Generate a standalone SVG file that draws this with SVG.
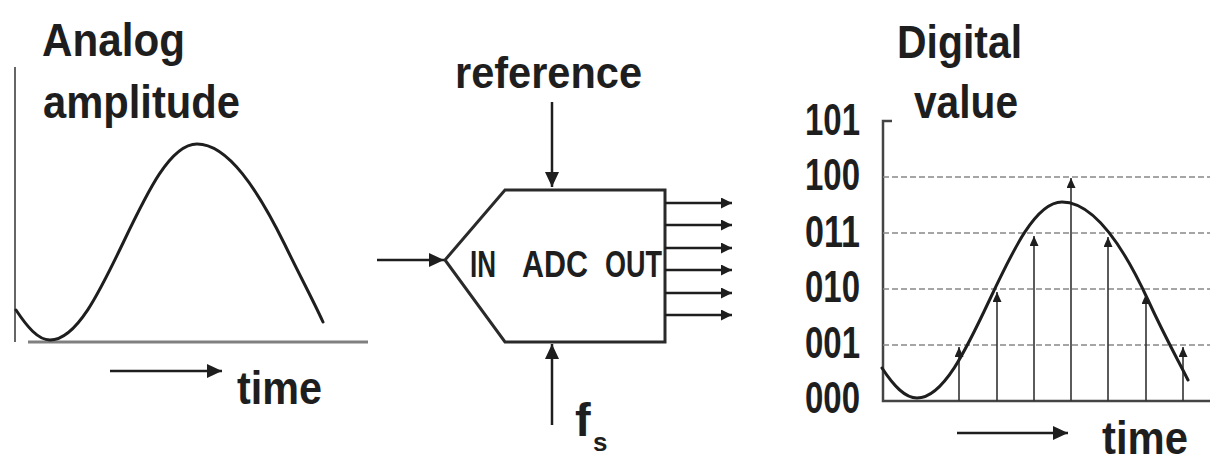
<svg xmlns="http://www.w3.org/2000/svg" width="1210" height="463" viewBox="0 0 1210 463">
<style>
text{font-family:"Liberation Sans",Arial,sans-serif;font-weight:bold;fill:#1e1e1e;}
.big{font-size:47px;}
.mid{font-size:44px;}
.lbl{font-size:36px;}
.curve{fill:none;stroke:#1e1e1e;stroke-width:3;stroke-linecap:round;}
.axis{fill:none;stroke:#444;stroke-width:2.5;}
.base{fill:none;stroke:#808080;stroke-width:3;}
.dash{fill:none;stroke:#888;stroke-width:1.6;stroke-dasharray:6 3;}
.arr{fill:none;stroke:#1e1e1e;stroke-width:2.5;}
.stem{fill:none;stroke:#333;stroke-width:1.6;}
.box{fill:none;stroke:#2a2a2a;stroke-width:3;stroke-linejoin:miter;}
</style>
<defs>
<marker id="ah" markerUnits="userSpaceOnUse" markerWidth="16" markerHeight="14" refX="15" refY="7" orient="auto"><path d="M0,0 L15,7 L0,14 z" fill="#1e1e1e"/></marker>
<marker id="ahs" markerUnits="userSpaceOnUse" markerWidth="12" markerHeight="11" refX="11" refY="5.5" orient="auto"><path d="M0,0 L11,5.5 L0,11 z" fill="#1e1e1e"/></marker>
<marker id="aht" markerUnits="userSpaceOnUse" markerWidth="10" markerHeight="9" refX="10" refY="4.5" orient="auto"><path d="M0,0 L10,4.5 L0,9 z" fill="#1e1e1e"/></marker>
</defs>
<rect width="1210" height="463" fill="#fff"/>

<g id="analog-plot">
<text class="big" x="42" y="56" textLength="143" lengthAdjust="spacingAndGlyphs">Analog</text>
<text class="big" x="43" y="118" textLength="197" lengthAdjust="spacingAndGlyphs">amplitude</text>
<line class="axis" x1="15" y1="67" x2="15" y2="342" style="stroke:#666;stroke-width:2"/>
<line class="base" x1="28" y1="342" x2="368" y2="342"/>
<path class="curve" d="M16,310 C27,326.6 38,340 50,340 C76.6,340 99.5,292.2 123.5,242 C147.5,191.8 170.4,144 197,144 C228,144 258,190 285,245 C300,276 313,300 323,322"/>
<text class="big" x="237" y="404" textLength="85" lengthAdjust="spacingAndGlyphs">time</text>
</g>

<g id="adc">
<path class="box" d="M505,190 L665,190 L665,342 L505,342 L445,260 Z"/>
<text class="lbl" x="470" y="277" textLength="26" lengthAdjust="spacingAndGlyphs">IN</text>
<text class="lbl" x="522" y="277" textLength="66" lengthAdjust="spacingAndGlyphs">ADC</text>
<text class="lbl" x="605" y="277" textLength="57" lengthAdjust="spacingAndGlyphs">OUT</text>
</g>

<g id="reference-label">
<text class="mid" x="455" y="88" textLength="187" lengthAdjust="spacingAndGlyphs">reference</text>
</g>

<g id="fs-label">
<text class="big" x="575" y="436">f</text>
<text x="593" y="451" style="font-size:26px">s</text>
</g>

<g id="digital-plot">
<text class="big" x="897" y="58" textLength="125" lengthAdjust="spacingAndGlyphs">Digital</text>
<text class="big" x="914" y="118" textLength="104" lengthAdjust="spacingAndGlyphs">value</text>
<text class="mid" x="805" y="135" textLength="55" lengthAdjust="spacingAndGlyphs">101</text>
<text class="mid" x="805" y="190" textLength="55" lengthAdjust="spacingAndGlyphs">100</text>
<text class="mid" x="805" y="247" textLength="55" lengthAdjust="spacingAndGlyphs">011</text>
<text class="mid" x="805" y="302" textLength="55" lengthAdjust="spacingAndGlyphs">010</text>
<text class="mid" x="805" y="358" textLength="55" lengthAdjust="spacingAndGlyphs">001</text>
<text class="mid" x="805" y="413" textLength="55" lengthAdjust="spacingAndGlyphs">000</text>
<path class="axis" d="M892,121 L883,121 L883,401 L1210,401"/>
<line class="dash" x1="883" y1="177" x2="1210" y2="177"/>
<line class="dash" x1="883" y1="233" x2="1210" y2="233"/>
<line class="dash" x1="883" y1="289" x2="1210" y2="289"/>
<line class="dash" x1="883" y1="345" x2="1210" y2="345"/>
<line class="stem" x1="959" y1="401" x2="959" y2="347" marker-end="url(#aht)"/>
<line class="stem" x1="997" y1="401" x2="997" y2="292" marker-end="url(#aht)"/>
<line class="stem" x1="1034" y1="401" x2="1034" y2="236" marker-end="url(#aht)"/>
<line class="stem" x1="1071" y1="401" x2="1071" y2="178" marker-end="url(#aht)"/>
<line class="stem" x1="1108" y1="401" x2="1108" y2="237" marker-end="url(#aht)"/>
<line class="stem" x1="1146" y1="401" x2="1146" y2="294" marker-end="url(#aht)"/>
<line class="stem" x1="1183" y1="401" x2="1183" y2="347" marker-end="url(#aht)"/>
<path class="curve" d="M882,368 C894,386.4 905,398 917,398 C943.2,398 965.9,350.2 989.5,300 C1013.1,249.8 1035.8,202 1062,202 C1095,202 1125,250 1148,300 C1165,337 1178,360 1188,380"/>
<text class="big" x="1102" y="454" textLength="86" lengthAdjust="spacingAndGlyphs">time</text>
</g>

<g id="connectors">
<line class="arr" x1="110" y1="371" x2="222" y2="371" marker-end="url(#ah)"/>
<line class="arr" x1="552" y1="102" x2="552" y2="187" marker-end="url(#ah)"/>
<line class="arr" x1="377" y1="260" x2="444" y2="260" marker-end="url(#ah)"/>
<line class="arr" x1="552" y1="425" x2="552" y2="344" marker-end="url(#ah)"/>
<line class="arr" x1="665" y1="203" x2="732" y2="203" marker-end="url(#ahs)"/>
<line class="arr" x1="665" y1="225" x2="732" y2="225" marker-end="url(#ahs)"/>
<line class="arr" x1="665" y1="248" x2="732" y2="248" marker-end="url(#ahs)"/>
<line class="arr" x1="665" y1="270" x2="732" y2="270" marker-end="url(#ahs)"/>
<line class="arr" x1="665" y1="293" x2="732" y2="293" marker-end="url(#ahs)"/>
<line class="arr" x1="665" y1="315" x2="732" y2="315" marker-end="url(#ahs)"/>
<line class="arr" x1="957" y1="433" x2="1068" y2="433" marker-end="url(#ah)"/>
</g>
</svg>
